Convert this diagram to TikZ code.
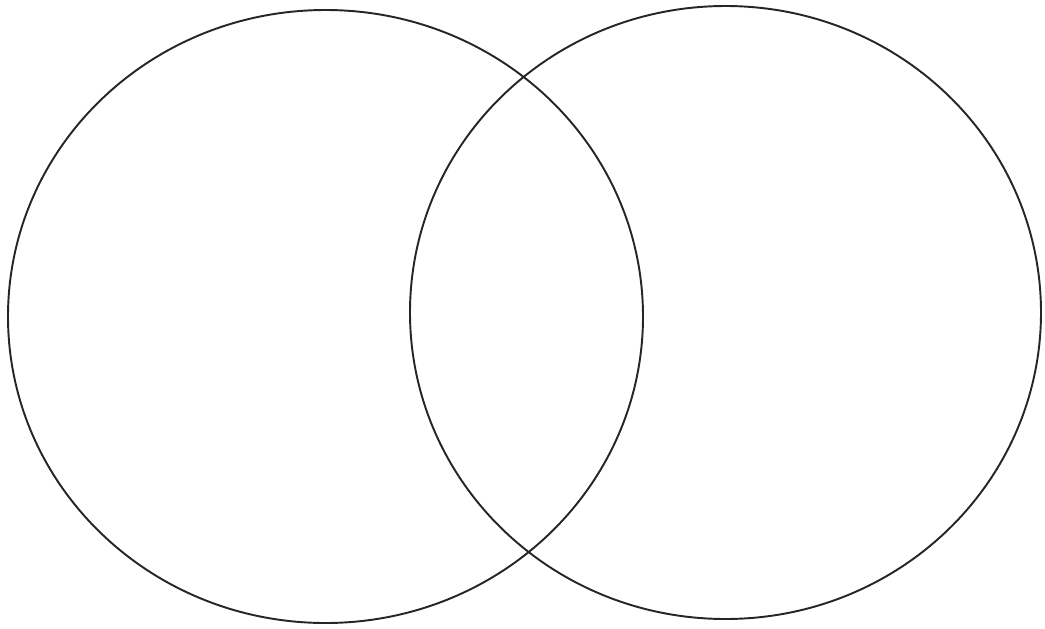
\documentclass[tikz,border=0pt]{standalone}
\usepackage{tikz}
\usetikzlibrary{positioning}

\begin{document}
\begin{tikzpicture}[
    x=0.02cm, y=-0.02cm,
    ring/.style={draw=black!85, line width=1.1pt}
]
    % Page frame, same size as the scan
    \useasboundingbox (0,0) rectangle (1045,629);

    % Centres of the two sets
    \coordinate (setA) at (325.5,316.5);
    \coordinate (setB) at (725.5,312.5);

    % Two overlapping circles
    \draw[ring] (setA) ellipse [x radius=317.5, y radius=306.5];
    \draw[ring] (setB) ellipse [x radius=315.5, y radius=306.5];
\end{tikzpicture}
\end{document}
